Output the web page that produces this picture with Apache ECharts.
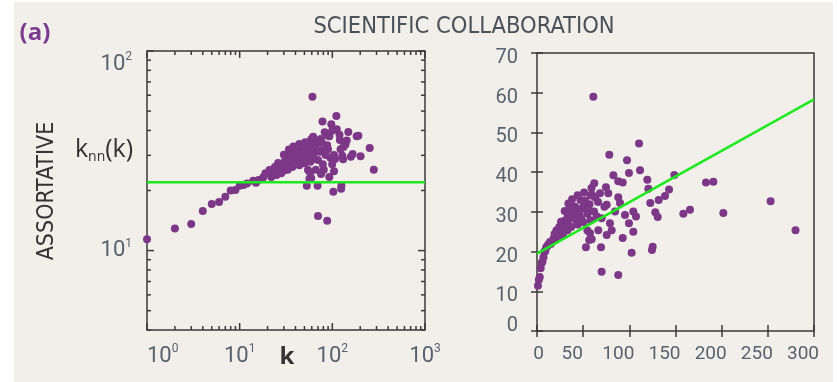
<!DOCTYPE html>
<html>
<head>
<meta charset="utf-8">
<script src="https://cdn.jsdelivr.net/npm/echarts@6/dist/echarts.min.js"></script>
<style>
  html, body { margin: 0; padding: 0; background: #ffffff; }
  #stage { position: relative; width: 837px; height: 382px; overflow: hidden; }
  #paper { position: absolute; left: 14px; top: 2px; width: 819px; height: 380px; background: #f2efeb; }
  #chart { position: absolute; left: 0; top: 0; width: 837px; height: 382px; }
</style>
</head>
<body>
<div id="stage">
  <div id="paper"></div>
  <div id="chart"></div>
</div>
<script>
// Degree k of each node class and the mean degree of its neighbours, k_nn(k)
const degree = [
  1, 2, 3, 4, 5, 6, 7, 8, 9, 10, 11, 12, 14, 15, 16, 18, 19, 22, 25, 27, 29, 32, 34,
  21, 23, 24, 26, 30, 31, 35, 26, 30, 34, 38, 33, 37, 44, 48, 47, 52,
  28.1, 28.8, 30.5, 33.1, 32.3, 36.0, 37.6, 40.8, 42.5, 40.1, 46.2, 48.2, 50.2, 54.6, 56.9, 59.3, 54.6,
  61, 110.5, 78.3, 97.5, 111.6, 82.7, 99.6, 88, 92.8, 119.5, 120.6, 62, 59, 74.7, 44, 58, 68.2, 77.2, 88,
  148.7, 143, 138.6, 131.8, 122.7, 128.1, 130.7, 183, 191, 158.5, 165.7, 201.8, 253, 280, 125.3, 124.5,
  89.9, 75.5, 35.7, 41.2, 50.2, 55.6, 64.7, 84.5, 95.3, 104.3, 107.2, 99.6, 79, 80.9, 66.4, 57.4, 75.5,
  104.3, 56.6, 59.2, 53, 69.3, 92.8, 102.5, 70, 88,
  66.1, 61.8, 73, 57.9, 70, 45, 51, 63
];
const knn = [
  11.4, 12.9, 13.6, 15.8, 17.1, 17.5, 18.6, 20.0, 20.1, 21.1, 21.3, 21.7, 22.4, 21.9, 22.6, 23.3, 24.4, 23.4, 23.9, 24.8, 26.3, 27.9, 30.1,
  25.3, 24.6, 26.2, 25.6, 25.2, 26.8, 26.5, 27.5, 30.2, 32.1, 33.2, 25.4, 26.2, 26.8, 28.2, 33.0, 32.8,
  24.4, 26.3, 27.9, 29.5, 26.8, 28.4, 30.7, 29.5, 27.9, 31.3, 29.0, 30.7, 27.4, 29.5, 31.9, 34.4, 25.3,
  59.0, 47.2, 44.4, 43.0, 40.5, 39.2, 39.8, 37.7, 37.4, 38.1, 35.8, 37.2, 36.0, 36.2, 34.2, 34.1, 34.7, 34.7, 33.7,
  39.3, 35.6, 34.0, 33.0, 32.2, 29.9, 28.7, 37.4, 37.6, 29.5, 30.5, 29.7, 32.7, 25.4, 21.2, 20.4,
  32.2, 31.8, 30.9, 31.3, 31.3, 30.9, 28.8, 30.1, 29.2, 30.1, 28.8, 27.1, 27.1, 25.4, 25.4, 24.6, 24.2,
  25.0, 22.9, 23.1, 21.1, 21.1, 23.4, 19.7, 14.9, 14.1,
  32.5, 30.1, 31.3, 27.9, 28.4, 30.4, 34.9, 33.6
];

// Uncorrelated-network level (log panel) and the linear trend (linear panel)
const flatLevel = 22;
const trendK = [0, 300];
const trendKnn = [19.5, 58.3];

// Axis ranges
const logKRange = [1, 1000];
const logKnnRange = [4, 100];
const linKRange = [0, 300];
const linKnnRange = [0, 70];

// Log-axis tick marks: decades plus 2..9 within each decade
function logTicks(lo, hi) {
  const out = [];
  for (let d = 1; d <= 1000; d *= 10) {
    for (let m = 1; m <= 9; m++) {
      const v = m * d;
      if (v >= lo - 1e-9 && v <= hi + 1e-9) out.push(v);
    }
  }
  return out;
}
const xLogTicks = logTicks(logKRange[0], logKRange[1]);
const yLogTicks = logTicks(logKnnRange[0], logKnnRange[1]);
const isDecade = v => Math.abs(Math.log10(v) - Math.round(Math.log10(v))) < 1e-6;

const points = degree.map((k, i) => [k, knn[i]]);

const labelColor = '#58626e';
const frameColor = '#3a3a3a';
const dotColor = '#7d3787';
const lineColor = '#1ee81e';
const numFont = 'Roboto';

const powRich = {
  b: { fontSize: 22, fontFamily: numFont, color: labelColor, lineHeight: 26 },
  s: { fontSize: 12, fontFamily: numFont, color: labelColor, lineHeight: 13, verticalAlign: 'top' }
};
function powLabel(v) {
  if (!isDecade(v)) return '';
  return '{b|10}{s|' + Math.round(Math.log10(v)) + '}';
}

const tickStyle = { stroke: frameColor, lineWidth: 1.5 };
const innerTick = { inside: true, length: 6, lineStyle: { color: frameColor, width: 1.5 } };

const chart = echarts.init(document.getElementById('chart'), null, { renderer: 'canvas' });
chart.setOption({
  animation: false,
  backgroundColor: 'transparent',
  grid: [
    { left: 147, top: 51, width: 278, height: 279, show: true, borderColor: frameColor, borderWidth: 1.5, backgroundColor: 'transparent' },
    { left: 537, top: 53, width: 277, height: 278, show: true, borderColor: frameColor, borderWidth: 1.5, backgroundColor: 'transparent' }
  ],
  xAxis: [
    {
      gridIndex: 0, type: 'log', logBase: 10, min: logKRange[0], max: logKRange[1],
      axisLine: { show: false }, axisTick: { show: false }, splitLine: { show: false },
      axisLabel: { margin: 13, fontSize: 22, fontFamily: numFont, color: labelColor,
                   formatter: powLabel, rich: powRich, alignMinLabel: 'left', showMinLabel: true, showMaxLabel: true }
    },
    {
      gridIndex: 1, type: 'value', min: linKRange[0], max: linKRange[1], interval: 50, position: 'bottom',
      axisLine: { show: false }, splitLine: { show: false }, axisTick: innerTick,
      axisLabel: {
        margin: 14,
        formatter: v => (v === 0 ? '{z|0}' : '{a|' + v + '}'),
        rich: {
          a: { fontSize: 19, fontFamily: numFont, color: labelColor, padding: [0, 22, 0, 0] },
          z: { fontSize: 19, fontFamily: numFont, color: labelColor, padding: [0, 0, 0, 3] }
        }
      }
    },
    {
      gridIndex: 1, type: 'value', min: linKRange[0], max: linKRange[1], interval: 50, position: 'top',
      axisLine: { show: false }, splitLine: { show: false }, axisLabel: { show: false }, axisTick: innerTick
    }
  ],
  yAxis: [
    {
      gridIndex: 0, type: 'log', logBase: 10, min: logKnnRange[0], max: logKnnRange[1],
      axisLine: { show: false }, axisTick: { show: false }, splitLine: { show: false },
      axisLabel: { margin: 15, fontSize: 22, fontFamily: numFont, color: labelColor,
                   formatter: powLabel, rich: powRich, verticalAlignMaxLabel: 'top', showMaxLabel: true }
    },
    {
      gridIndex: 1, type: 'value', min: linKnnRange[0], max: linKnnRange[1], interval: 10, position: 'left',
      axisLine: { show: false }, splitLine: { show: false }, axisTick: innerTick,
      axisLabel: {
        margin: 19, fontSize: 20, fontFamily: numFont, color: labelColor,
        lineHeight: 10, verticalAlign: 'top', verticalAlignMinLabel: 'bottom'
      }
    },
    {
      gridIndex: 1, type: 'value', min: linKnnRange[0], max: linKnnRange[1], interval: 10, position: 'right',
      axisLine: { show: false }, splitLine: { show: false }, axisLabel: { show: false }, axisTick: innerTick
    }
  ],
  series: [
    {
      // inward log ticks along the bottom and top edges of the log panel
      type: 'custom', xAxisIndex: 0, yAxisIndex: 0, z: 5, silent: true, clip: false,
      data: xLogTicks.map(v => [v, 10]),
      renderItem: (params, api) => {
        const v = api.value(0);
        const len = isDecade(v) ? 7 : 4;
        const b = api.coord([v, logKnnRange[0]]);
        const t = api.coord([v, logKnnRange[1]]);
        return {
          type: 'group', children: [
            { type: 'line', shape: { x1: b[0], y1: b[1], x2: b[0], y2: b[1] - len }, style: tickStyle },
            { type: 'line', shape: { x1: t[0], y1: t[1], x2: t[0], y2: t[1] + len }, style: tickStyle }
          ]
        };
      }
    },
    {
      // inward log ticks along the left and right edges of the log panel
      type: 'custom', xAxisIndex: 0, yAxisIndex: 0, z: 5, silent: true, clip: false,
      data: yLogTicks.map(v => [10, v]),
      renderItem: (params, api) => {
        const v = api.value(1);
        const len = isDecade(v) ? 7 : 4;
        const l = api.coord([logKRange[0], v]);
        const r = api.coord([logKRange[1], v]);
        return {
          type: 'group', children: [
            { type: 'line', shape: { x1: l[0], y1: l[1], x2: l[0] + len, y2: l[1] }, style: tickStyle },
            { type: 'line', shape: { x1: r[0], y1: r[1], x2: r[0] - len, y2: r[1] }, style: tickStyle }
          ]
        };
      }
    },
    {
      type: 'scatter', xAxisIndex: 0, yAxisIndex: 0, data: points,
      symbolSize: 8, itemStyle: { color: dotColor, opacity: 1 }, z: 2
    },
    {
      type: 'line', xAxisIndex: 0, yAxisIndex: 0,
      data: [[logKRange[0], flatLevel], [logKRange[1], flatLevel]],
      showSymbol: false, symbol: 'none', lineStyle: { color: lineColor, width: 2.5 }, z: 3
    },
    {
      type: 'scatter', xAxisIndex: 1, yAxisIndex: 1, data: points,
      symbolSize: 8, itemStyle: { color: dotColor, opacity: 1 }, z: 2
    },
    {
      type: 'line', xAxisIndex: 1, yAxisIndex: 1,
      data: [[trendK[0], trendKnn[0]], [trendK[1], trendKnn[1]]],
      showSymbol: false, symbol: 'none', lineStyle: { color: lineColor, width: 2.5 }, z: 3
    }
  ],
  graphic: [
    {
      type: 'text', x: 464, y: 27,
      style: { text: 'SCIENTIFIC COLLABORATION', font: '23.5px "DejaVu Sans Condensed"', fill: '#4b5159',
               align: 'center', verticalAlign: 'middle', textAlign: 'center', textVerticalAlign: 'middle' }
    },
    {
      type: 'text', x: 35, y: 33,
      style: { text: '(a)', font: 'bold 24px "Open Sans"', fill: '#7b3b8e',
               align: 'center', verticalAlign: 'middle', textAlign: 'center', textVerticalAlign: 'middle' }
    },
    {
      type: 'text', x: 47, y: 191, rotation: Math.PI / 2,
      style: { text: 'ASSORTATIVE', font: '23px "Liberation Sans Narrow", "DejaVu Sans Condensed"', fill: '#333333',
               align: 'center', verticalAlign: 'middle', textAlign: 'center', textVerticalAlign: 'middle' }
    },
    {
      type: 'text', x: 287, y: 357,
      style: { text: 'k', font: 'bold 24px "Open Sans"', fill: '#333333',
               align: 'center', verticalAlign: 'middle', textAlign: 'center', textVerticalAlign: 'middle' }
    },
    {
      type: 'text', x: 104, y: 150,
      style: {
        text: '{k|k}{n|nn}{k|(k)}',
        rich: {
          k: { fontSize: 25, fontFamily: 'Open Sans', fill: '#333333', color: '#333333', lineHeight: 28, verticalAlign: 'middle' },
          n: { fontSize: 14, fontFamily: 'Open Sans', fill: '#333333', color: '#333333', lineHeight: 12, verticalAlign: 'bottom' }
        },
        align: 'center', verticalAlign: 'middle', textAlign: 'center', textVerticalAlign: 'middle'
      }
    }
  ]
});
</script>
</body>
</html>
